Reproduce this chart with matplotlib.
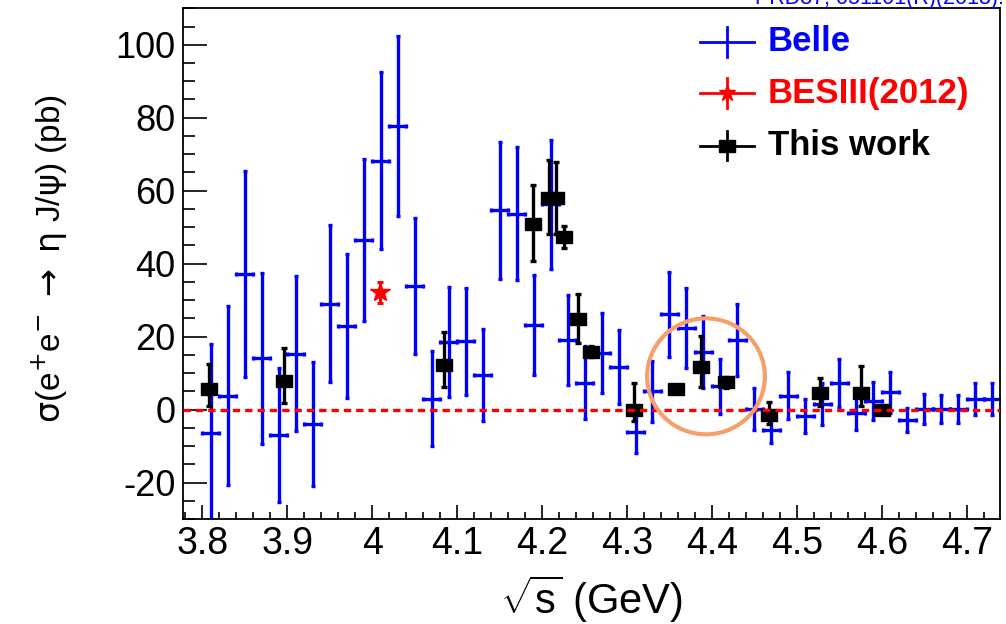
"""sigma(e+e- -> eta J/psi): Belle, BESIII(2012) y este trabajo."""
import matplotlib
matplotlib.use("Agg")
import matplotlib.pyplot as plt
from matplotlib.lines import Line2D
from matplotlib.patches import Ellipse
from matplotlib.ticker import MultipleLocator

plt.rcParams["font.family"] = ["Liberation Sans", "DejaVu Sans"]
plt.rcParams["mathtext.fontset"] = "custom"
plt.rcParams["mathtext.rm"] = "Liberation Sans"
plt.rcParams["mathtext.it"] = "Liberation Sans:italic"
plt.rcParams["mathtext.bf"] = "Liberation Sans:bold"
plt.rcParams["axes.unicode_minus"] = False

# Belle (bins de 20 MeV)
belle_e = [3.81, 3.83, 3.85, 3.87, 3.89, 3.91, 3.93, 3.95, 3.97, 3.99,
           4.01, 4.03, 4.05, 4.07, 4.09, 4.11, 4.13, 4.15, 4.17, 4.19,
           4.21, 4.23, 4.25, 4.27, 4.29, 4.31, 4.33, 4.35, 4.37, 4.39,
           4.41, 4.43, 4.45, 4.47, 4.49, 4.51, 4.53, 4.55, 4.57, 4.59,
           4.61, 4.63, 4.65, 4.67, 4.69, 4.71, 4.73]
belle_sig = [-6.5, 3.8, 37.1, 14.0, -6.9, 15.3, -3.9, 29.0, 22.9, 46.5,
             68.2, 77.7, 33.9, 3.0, 18.5, 18.7, 9.5, 54.6, 53.7, 23.3,
             56.3, 19.1, 7.4, 15.4, 11.7, -6.2, 5.0, 26.1, 22.3, 15.8,
             6.4, 19.0, 0.2, -5.5, 3.8, -1.8, 1.6, 7.3, -0.9, 2.3,
             4.7, -2.9, 0.2, 0.2, 0.2, 2.9, 2.9]
belle_err = [24.5, 24.5, 28.2, 23.5, 18.4, 21.3, 17.0, 21.5, 19.8, 22.3,
             24.3, 24.7, 18.6, 13.0, 15.1, 14.7, 12.7, 18.8, 18.3, 13.7,
             17.7, 12.3, 9.9, 11.0, 10.2, 5.8, 8.3, 11.7, 10.9, 9.8,
             7.5, 9.9, 5.8, 3.8, 6.4, 4.6, 5.7, 6.6, 4.6, 5.2,
             5.7, 3.2, 4.1, 3.9, 3.8, 4.5, 4.5]
belle_xerr = 0.01

# BESIII 2012
bes12_e = [4.009]
bes12_sig = [32.1]
bes12_err = [3.0]

# este trabajo
tw_e = [3.808, 3.896, 4.085, 4.189, 4.208, 4.217, 4.226, 4.242, 4.258,
        4.308, 4.358, 4.387, 4.416, 4.467, 4.527, 4.575, 4.600]
tw_sig = [5.5, 7.9, 12.1, 51.0, 58.1, 58.1, 47.3, 24.9, 15.8,
          -0.2, 5.7, 11.6, 7.5, -1.4, 4.6, 4.6, -0.2]
tw_up = [7.1, 9.1, 9.1, 10.5, 10.2, 9.9, 2.9, 6.8, 1.5,
         7.5, 1.0, 8.7, 1.5, 3.5, 4.1, 7.4, 1.0]
tw_dn = [4.6, 6.1, 6.0, 10.2, 10.1, 9.9, 3.0, 6.7, 1.5,
         3.0, 1.0, 5.4, 1.5, 2.5, 3.7, 3.7, 1.0]

# zona resaltada
circ_e, circ_sig, circ_de, circ_dsig = 4.393, 9.1, 0.0693, 15.9

AZUL, ROJO = "#0000ff", "#ff0000"
rect = [(-0.5, -0.36), (0.5, -0.36), (0.5, 0.36), (-0.5, 0.36), (-0.5, -0.36)]

fig = plt.figure(figsize=(10.06, 6.24), dpi=100)
ax = fig.add_axes([0.1816, 0.1683, 0.8124, 0.8184])

ax.errorbar(belle_e, belle_sig, yerr=belle_err, xerr=belle_xerr, fmt="none",
            ecolor=AZUL, elinewidth=2.4, capsize=1.6, capthick=2.4, zorder=2)
ax.errorbar(tw_e, tw_sig, yerr=[tw_dn, tw_up], fmt="none", ecolor="black",
            elinewidth=2.4, capsize=2.0, capthick=2.4, zorder=3)
ax.plot(tw_e, tw_sig, ls="none", marker=rect, ms=12, color="black", zorder=4)
ax.errorbar(bes12_e, bes12_sig, yerr=bes12_err, fmt="*", color=ROJO, ms=15,
            elinewidth=2.2, capsize=2.0, capthick=2.2, zorder=4)
ax.axhline(0, color=ROJO, lw=2.4, ls=(0, (2.2, 1.5)), zorder=5)
ax.add_patch(Ellipse((circ_e, circ_sig), 2 * circ_de, 2 * circ_dsig, fill=False,
                     ec="#f5a06b", lw=3.0, zorder=6))

ax.set_xlim(3.777, 4.739)
ax.set_ylim(-30, 110)
ax.xaxis.set_major_locator(MultipleLocator(0.1))
ax.xaxis.set_minor_locator(MultipleLocator(0.02))
ax.yaxis.set_major_locator(MultipleLocator(20))
ax.yaxis.set_minor_locator(MultipleLocator(5))
ax.set_xticks([3.8, 3.9, 4.0, 4.1, 4.2, 4.3, 4.4, 4.5, 4.6, 4.7])
ax.set_xticklabels(["3.8", "3.9", "4", "4.1", "4.2", "4.3", "4.4", "4.5",
                    "4.6", "4.7"])
ax.tick_params(axis="both", which="both", direction="in", top=False,
               right=False, width=1.2)
ax.tick_params(axis="y", which="major", length=17, pad=5, labelsize=26)
ax.tick_params(axis="y", which="minor", length=8.6)
ax.tick_params(axis="x", which="major", length=10, pad=5, labelsize=27)
ax.tick_params(axis="x", which="minor", length=5)
for s in ax.spines.values():
    s.set_linewidth(1.3)

ax.set_xlabel(r"$\sqrt{\mathrm{s}}$ (GeV)", fontsize=30)
ax.xaxis.label.set_va("center")
ax.xaxis.set_label_coords(0.5, -0.157)
ax.set_ylabel(r"$\mathrm{\sigma}$(e$^{+}$e$^{-}$ $\rightarrow$ $\mathrm{\eta}$ "
              r"J/$\mathrm{\psi}$) (pb)", fontsize=24,
              math_fontfamily="dejavusans")
ax.yaxis.label.set_va("center")
ax.yaxis.set_label_coords(-0.162, 0.51)

# leyenda a mano, estilo ROOT
ley = [("Belle", AZUL, None, 0.9346), ("BESIII(2012)", ROJO, "*", 0.8336),
       ("This work", "black", rect, 0.731)]
for txt, col, mk, yy in ley:
    ax.add_line(Line2D([0.633, 0.699], [yy, yy], color=col, lw=2.0,
                       transform=ax.transAxes))
    ax.add_line(Line2D([0.666, 0.666], [yy - 0.029, yy + 0.029], color=col,
                       lw=2.0, transform=ax.transAxes))
    if mk is not None:
        ax.add_line(Line2D([0.666], [yy], ls="none", marker=mk, ms=12,
                           color=col, transform=ax.transAxes))
    ax.text(0.716, yy, txt, transform=ax.transAxes, color=col, fontsize=25,
            fontweight="bold", va="center", ha="left")

fig.text(1004 / 1006, 0.9936, "PRD87, 051101(R)(2013).", color=AZUL,
         fontsize=15.5, ha="right", va="baseline")

fig.savefig("out.png", dpi=100)
print("Escrito out.png")
